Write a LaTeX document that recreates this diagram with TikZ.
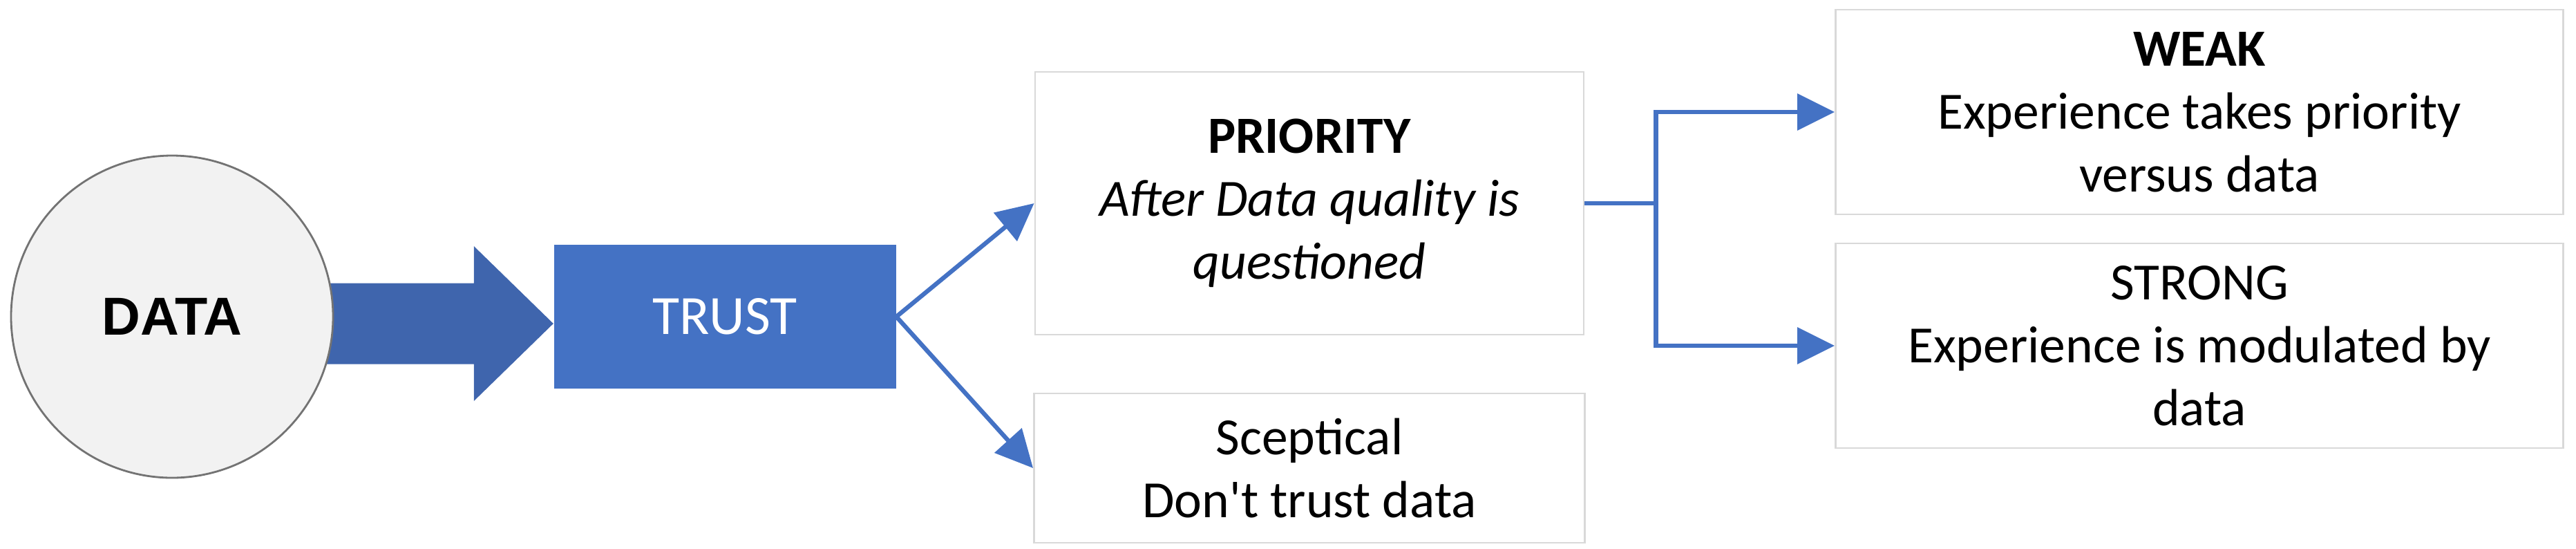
\documentclass[tikz,border=0pt]{standalone}
\usepackage{fontspec}
\setmainfont{Carlito}
\newfontfamily\arialfont{Liberation Sans}
\usepackage{tikz}
\usetikzlibrary{arrows.meta,backgrounds}
\definecolor{trustblue}{HTML}{4472C4}
\definecolor{arrowblue}{HTML}{3F65AD}
\definecolor{boxgray}{HTML}{D9D9D9}
\definecolor{datagray}{HTML}{F2F2F2}

\begin{document}
\begin{tikzpicture}[>={Triangle[length=5.4mm,width=5.2mm]},
    box/.style={draw=boxgray,line width=0.8pt,fill=white,align=center,inner sep=0pt,
      font=\fontsize{21.5}{25.9}\selectfont},
    link/.style={->,draw=trustblue,line width=1.8pt}]
      \useasboundingbox (0,0) rectangle (37.28,-7.93);

      \node[circle,draw=black!55,line width=0.8pt,fill=datagray,minimum size=4.66cm,
        font=\fontsize{22}{26}\selectfont\arialfont\bfseries] (1) at (2.49,-4.58) {DATA};
      \node[right of=1,xshift=7cm,fill=trustblue,text=white,minimum width=4.95cm,
        minimum height=2.08cm,font=\fontsize{22.8}{27}\selectfont] (2) {TRUST};
      \node[box,right of=2,xshift=7.46cm,yshift=1.64cm,minimum width=7.94cm,
        minimum height=3.8cm] (3) {\textbf{PRIORITY}\\ \textit{After Data quality is}\\ \textit{questioned}};
      \node[box,below of=3,yshift=-2.83cm,minimum width=7.97cm,
        minimum height=2.16cm] (4) {Sceptical\\ Don\textquotesingle t trust data};
      \node[box,right of=3,xshift=11.88cm,yshift=1.32cm,minimum width=10.53cm,
        minimum height=2.96cm] (5) {\textbf{WEAK}\\ Experience takes priority\\ versus data};
      \node[box,below of=5,yshift=-2.38cm,minimum width=10.53cm,
        minimum height=2.96cm] (6) {STRONG\\ Experience is modulated by\\ data};

      % block arrow from DATA to TRUST
      \begin{scope}[on background layer]
        \fill[arrowblue] ([yshift=-1mm]2.west) -- ++(-1.15,1.12) -- ++(0,-0.535) -- ++(-2.9,0)
          -- ++(0,-1.17) -- ++(2.9,0) -- ++(0,-0.535) -- cycle;
      \end{scope}

      \draw[link] (2.east) -- (3.west);
      \draw[link] (2.east) -- (4.west);
      \draw[link] (3.east) -- ++(1.03,0) |- (5.west);
      \draw[link] (3.east) -- ++(1.03,0) |- (6.west);
    \end{tikzpicture}
\end{document}
